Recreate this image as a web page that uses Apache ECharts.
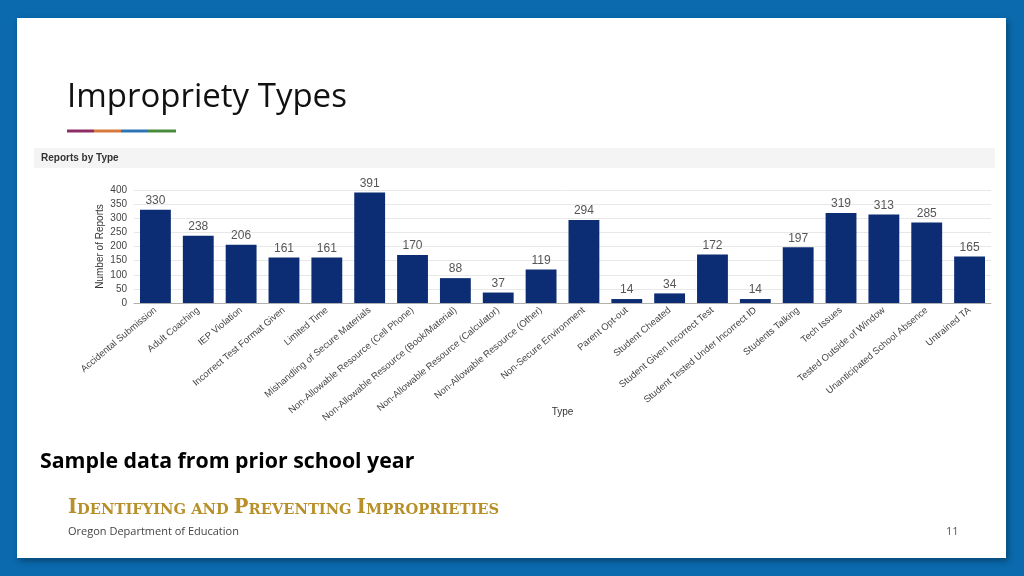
<!DOCTYPE html>
<html><head><meta charset="utf-8">
<script src="https://cdn.jsdelivr.net/npm/echarts@6/dist/echarts.min.js"></script>
<style>html,body{margin:0;padding:0;background:#0a6aad}#c{width:1024px;height:576px}</style>
</head><body><div id="c"></div>
<script>
const categories = ["Accidental Submission","Adult Coaching","IEP Violation","Incorrect Test Format Given","Limited Time","Mishandling of Secure Materials","Non-Allowable Resource (Cell Phone)","Non-Allowable Resource (Book/Material)","Non-Allowable Resource (Calculator)","Non-Allowable Resource (Other)","Non-Secure Environment","Parent Opt-out","Student Cheated","Student Given Incorrect Test","Student Tested Under Incorrect ID","Students Talking","Tech Issues","Tested Outside of Window","Unanticipated School Absence","Untrained TA"];
const reports = [330,238,206,161,161,391,170,88,37,119,294,14,34,172,14,197,319,313,285,165];
const yTicks = {min:0, max:400, interval:50};

const chart = echarts.init(document.getElementById('c'));
const f = '"Liberation Sans", Arial, sans-serif';
chart.setOption({
  backgroundColor:'#0a6aad',
  animation:false,
  graphic:[
    {type:'rect', z:-10, shape:{x:17,y:18,width:989,height:540}, style:{fill:'#ffffff', shadowBlur:6, shadowOffsetX:2, shadowOffsetY:3, shadowColor:'rgba(0,0,0,0.35)'}},
    {type:'text', left:67, top:81, style:{text:'Impropriety Types', font:'33px "Open Sans", "Noto Sans", sans-serif', fill:'#111'}},
    {type:'rect', shape:{x:67,y:129.5,width:27,height:3}, style:{fill:'#8e2c66'}},
    {type:'rect', shape:{x:94,y:129.5,width:27,height:3}, style:{fill:'#d7793a'}},
    {type:'rect', shape:{x:121,y:129.5,width:27,height:3}, style:{fill:'#2e75b6'}},
    {type:'rect', shape:{x:148,y:129.5,width:28,height:3}, style:{fill:'#4a8a3c'}},
    {type:'rect', shape:{x:34,y:148,width:961,height:20}, style:{fill:'#f4f4f4'}},
    {type:'text', left:41, top:153, style:{text:'Reports by Type', font:'bold 10px '+f, fill:'#333'}},
    {type:'text', left:40, top:451, style:{text:'Sample data from prior school year', font:'bold 21.3px "Open Sans", "Noto Sans", sans-serif', fill:'#000'}},
    {type:'text', left:68, top:498, style:{
      text:'{b|I}{s|DENTIFYING AND }{b|P}{s|REVENTING }{b|I}{s|MPROPRIETIES}',
      rich:{b:{font:'bold 19.5px "DejaVu Serif", serif', fill:'#b8902a', verticalAlign:'bottom'},
            s:{font:'bold 14.7px "DejaVu Serif", serif', fill:'#b8902a', verticalAlign:'bottom'}}}},
    {type:'text', left:68, top:526, style:{text:'Oregon Department of Education', font:'11px "Open Sans", "Noto Sans", sans-serif', fill:'#444'}},
    {type:'text', left:946, top:526, style:{text:'11', font:'11px "Open Sans", "Noto Sans", sans-serif', fill:'#555'}}
  ],
  grid:{left:134, right:33, top:190, bottom:273},
  xAxis:{
    type:'category', data:categories,
    axisLine:{lineStyle:{color:'#b0b0b0'}},
    axisTick:{show:false},
    axisLabel:{interval:0, rotate:40, fontSize:9.5, color:'#444', fontFamily:f, margin:6},
    name:'Type', nameLocation:'middle', nameGap:104, nameMoveOverlap:false,
    nameTextStyle:{fontSize:10, color:'#333', fontFamily:f}
  },
  yAxis:{
    type:'value', min:yTicks.min, max:yTicks.max, interval:yTicks.interval,
    axisLine:{show:false}, axisTick:{show:false},
    splitLine:{lineStyle:{color:'#e8e8e8'}},
    axisLabel:{fontSize:10, color:'#444', fontFamily:f, margin:7},
    name:'Number of Reports', nameLocation:'middle', nameGap:29, nameMoveOverlap:false,
    nameTextStyle:{fontSize:10, color:'#333', fontFamily:f}
  },
  series:[{
    type:'bar', data:reports, barCategoryGap:'28%',
    itemStyle:{color:'#0c2d73'},
    label:{show:true, position:'top', fontSize:12, color:'#555', fontFamily:f, distance:3}
  }]
});
</script></body></html>
